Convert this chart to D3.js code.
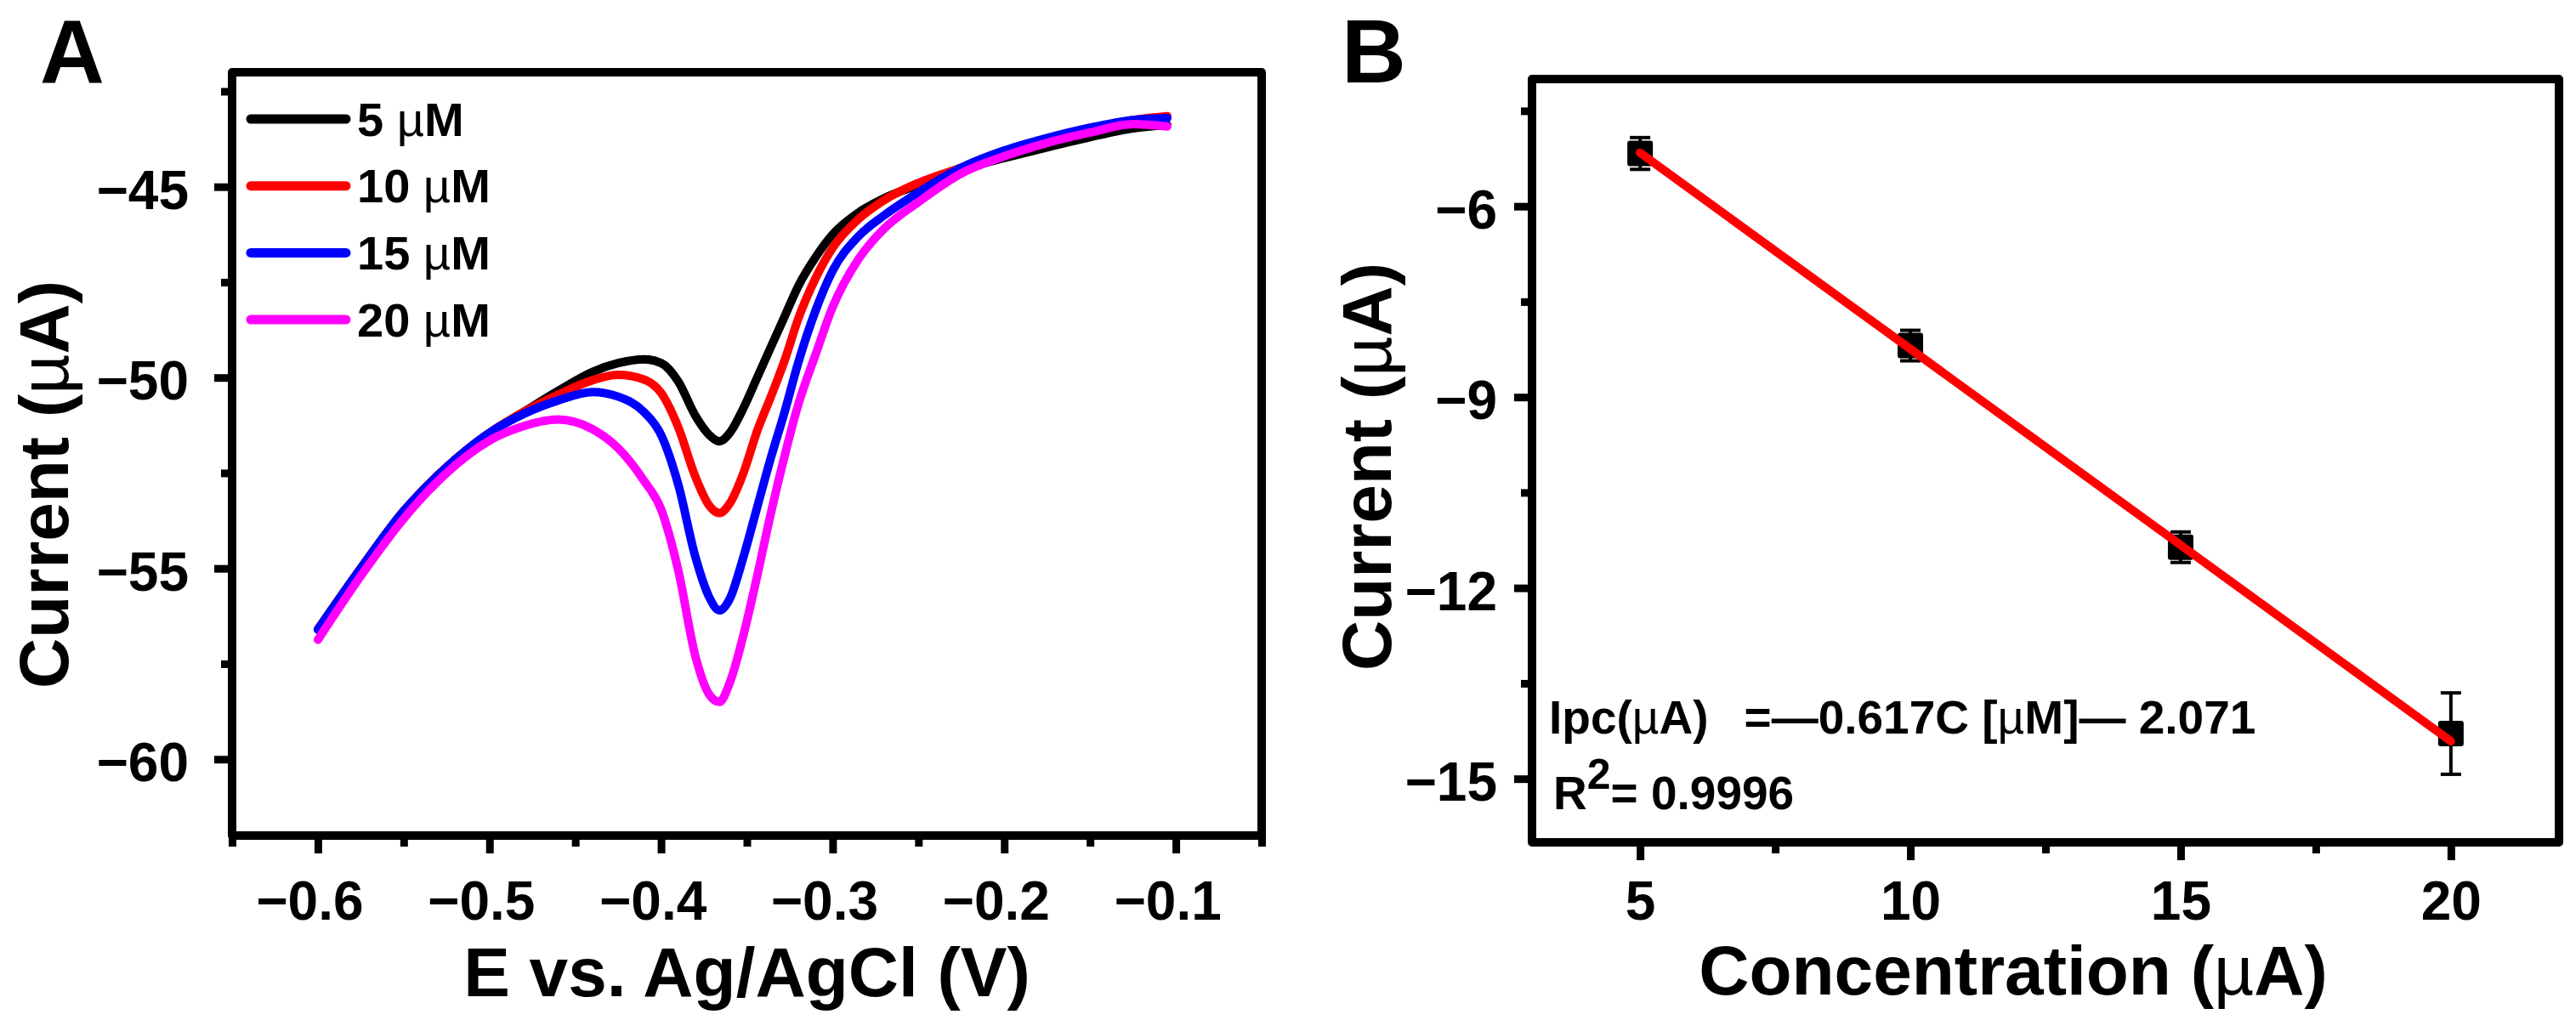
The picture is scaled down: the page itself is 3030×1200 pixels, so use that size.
<!DOCTYPE html>
<html>
<head>
<meta charset="utf-8">
<script src="https://cdn.jsdelivr.net/npm/d3@7"></script>
<style>
  body { margin: 0; background: #fff; }
  svg { display: block; font-family: "Liberation Sans", Arial, sans-serif; font-weight: bold; }
</style>
</head>
<body>
<div id="chart-area"></div>
<script>
/*
 *    DPV curves (A) and calibration plot (B)
 */

// ---- panel A data: potential (V) and current (uA) per concentration
const potential = [-0.600, -0.575, -0.550, -0.525, -0.500, -0.480, -0.460, -0.440, -0.425, -0.410,
    -0.400, -0.390, -0.380, -0.372, -0.366, -0.360, -0.352, -0.344, -0.336, -0.328,
    -0.320, -0.310, -0.300, -0.285, -0.270, -0.250, -0.225, -0.200, -0.175, -0.150,
    -0.125, -0.105];
const current5 = [-56.6, -55.0, -53.5, -52.35, -51.45, -50.9, -50.35, -49.85, -49.62, -49.52,
    -49.62, -50.1, -51.0, -51.5, -51.67, -51.45, -50.8, -50.0, -49.2, -48.4,
    -47.6, -46.85, -46.25, -45.68, -45.3, -44.95, -44.55, -44.25, -43.97, -43.7,
    -43.47, -43.38];
const current10 = [-56.6, -55.0, -53.5, -52.35, -51.45, -50.9, -50.45, -50.07, -49.93, -50.05,
    -50.4, -51.3, -52.6, -53.35, -53.55, -53.3, -52.5, -51.4, -50.5, -49.55,
    -48.45, -47.4, -46.6, -45.85, -45.35, -44.9, -44.5, -44.1, -43.8, -43.5,
    -43.25, -43.15];
const current15 = [-56.6, -55.0, -53.5, -52.35, -51.45, -50.95, -50.6, -50.38, -50.5, -50.9,
    -51.5, -52.8, -54.7, -55.75, -56.1, -55.8, -54.7, -53.4, -52.1, -50.9,
    -49.6, -48.25, -47.2, -46.3, -45.75, -45.15, -44.5, -44.05, -43.72, -43.45,
    -43.25, -43.2];
const current20 = [-56.87, -55.2, -53.7, -52.5, -51.65, -51.27, -51.1, -51.35, -51.85, -52.7,
    -53.45, -55.05, -57.3, -58.3, -58.5, -58.0, -56.75, -55.2, -53.55, -52.05,
    -50.7, -49.4, -48.15, -46.9, -46.1, -45.4, -44.65, -44.2, -43.85, -43.58,
    -43.36, -43.42];
const seriesLabels = ["5", "10", "15", "20"];
const potentialTicks = [-0.6, -0.5, -0.4, -0.3, -0.2, -0.1];
const potentialMinor = [-0.65, -0.55, -0.45, -0.35, -0.25, -0.15, -0.05];
const currentTicksA = [-60, -55, -50, -45];
const currentMinorA = [-57.5, -52.5, -47.5, -42.5];

// ---- panel B data: peak current vs concentration
const concentration = [5, 10, 15, 20];
const peakCurrent = [-5.17, -8.19, -11.36, -14.29];
const peakError = [0.25, 0.24, 0.24, 0.64];
const fitConc = [5, 20];
const fitCurrent = [-5.16, -14.41];
const concTicks = [5, 10, 15, 20];
const concMinor = [7.5, 12.5, 17.5];
const currentTicksB = [-15, -12, -9, -6];
const currentMinorB = [-13.5, -10.5, -7.5, -4.5];

var colours = ["#000000", "#ff0000", "#0000ff", "#ff00ff"];

const width = 3030;
const height = 1200;

const svg = d3.select("#chart-area")
    .append("svg")
    .attr("width", width)
    .attr("height", height);

const boxA = { left: 273, top: 85, right: 1484, bottom: 983 };
const boxB = { left: 1802, top: 93, right: 3010, bottom: 991 };

function panel(box) {
    return svg.append("g")
        .attr("transform", "translate(" + box.left + ", " + box.top + ")");
}

// ticks outside on left and bottom, then a closed frame on top
function drawAxes(g, x, y, w, h, o) {
    const bottomAxis = d3.axisBottom(x).tickValues(o.xMajor).tickSize(21).tickPadding(o.xPad).tickFormat(o.xFormat);
    const bottomMinor = d3.axisBottom(x).tickValues(o.xMinor).tickSize(13).tickFormat("");
    const leftAxis = d3.axisLeft(y).tickValues(o.yMajor).tickSize(21).tickPadding(o.yPad).tickFormat(d3.format("d"));
    const leftMinor = d3.axisLeft(y).tickValues(o.yMinor).tickSize(13).tickFormat("");

    g.append("g").attr("class", "bottom axis").attr("transform", "translate(0, " + h + ")").call(bottomAxis);
    g.append("g").attr("class", "bottom axis minor").attr("transform", "translate(0, " + h + ")").call(bottomMinor);
    g.append("g").attr("class", "left axis").call(leftAxis);
    g.append("g").attr("class", "left axis minor").call(leftMinor);

    g.selectAll(".axis").attr("font-size", null).attr("font-family", null);
    g.selectAll(".axis .domain").remove();
    g.selectAll(".axis .tick line").attr("stroke", "#000").attr("stroke-width", 9);
    g.selectAll(".axis .tick text")
        .attr("font-size", 64)
        .style("fill", "black");
    g.selectAll(".left.axis .tick text").attr("dy", "0.4em");
    if (o.xShift) {
        g.selectAll(".bottom.axis .tick text").attr("dx", o.xShift);
    }

    g.append("rect")
        .attr("width", w)
        .attr("height", h)
        .attr("fill", "none")
        .attr("stroke", "#000")
        .attr("stroke-width", 10)
        .attr("stroke-linejoin", "round");
}

// text with a thin mu, e.g. "Current (µA)"
function muText(sel, before, after) {
    sel.append("tspan").text(before);
    sel.append("tspan").attr("font-weight", "normal").text("\u00b5");
    sel.append("tspan").text(after);
}

/** Panel A */
const wA = boxA.right - boxA.left;
const hA = boxA.bottom - boxA.top;
const gA = panel(boxA);

const xA = d3.scaleLinear().domain([-0.65, -0.05]).range([0, wA]);
const yA = d3.scaleLinear().domain([-62, -42]).range([hA, 0]);

drawAxes(gA, xA, yA, wA, hA, {
    xMajor: potentialTicks, xMinor: potentialMinor, xFormat: d3.format(".1f"), xPad: 33, xShift: -10,
    yMajor: currentTicksA, yMinor: currentMinorA, yPad: 30
});

const series = [current5, current10, current15, current20];
const curve = d3.line()
    .x((d, i) => xA(potential[i]))
    .y((d) => yA(d))
    .curve(d3.curveMonotoneX);

gA.selectAll("path.curve")
    .data(series)
    .enter()
    .append("path")
    .attr("class", "curve")
    .attr("d", curve)
    .attr("fill", "none")
    .attr("stroke", (d, i) => colours[i])
    .attr("stroke-width", 10)
    .attr("stroke-linejoin", "round")
    .attr("stroke-linecap", "round");

const legend = gA.append("g").attr("transform", "translate(22, 55)");
const rows = legend.selectAll("g")
    .data(seriesLabels)
    .enter()
    .append("g")
    .attr("transform", (d, i) => "translate(0, " + i * 78.7 + ")");
rows.append("line")
    .attr("x1", 0)
    .attr("x2", 112)
    .attr("stroke", (d, i) => colours[i])
    .attr("stroke-width", 11)
    .attr("stroke-linecap", "round");
rows.append("text")
    .attr("x", 125)
    .attr("dy", "0.35em")
    .attr("font-size", 56)
    .each(function (d) {
        muText(d3.select(this), d + " ", "M");
    });

gA.append("text")
    .attr("x", wA / 2)
    .attr("y", 1172 - boxA.top)
    .attr("font-size", 82)
    .attr("text-anchor", "middle")
    .text("E vs. Ag/AgCl (V)");

gA.append("text")
    .attr("transform", "translate(" + (80 - boxA.left) + ", " + (570 - boxA.top) + ") rotate(-90)")
    .attr("font-size", 82)
    .attr("text-anchor", "middle")
    .call(muText, "Current (", "A)");

svg.append("text")
    .attr("x", 47)
    .attr("y", 98)
    .attr("font-size", 105)
    .text("A");

/** Panel B */
const wB = boxB.right - boxB.left;
const hB = boxB.bottom - boxB.top;
const gB = panel(boxB);

const xB = d3.scaleLinear().domain([3, 22]).range([0, wB]);
const yB = d3.scaleLinear().domain([-16, -4]).range([hB, 0]);

drawAxes(gB, xB, yB, wB, hB, {
    xMajor: concTicks, xMinor: concMinor, xFormat: d3.format("d"), xPad: 25,
    yMajor: currentTicksB, yMinor: currentMinorB, yPad: 20
});

const points = concentration.map((c, i) => ({ c: c, v: peakCurrent[i], e: peakError[i] }));

const bars = gB.selectAll("g.err")
    .data(points)
    .enter()
    .append("g")
    .attr("class", "err")
    .attr("stroke", "#000")
    .attr("stroke-width", 4);
bars.append("line")
    .attr("x1", (d) => xB(d.c))
    .attr("x2", (d) => xB(d.c))
    .attr("y1", (d) => yB(d.v - d.e))
    .attr("y2", (d) => yB(d.v + d.e));
bars.append("line")
    .attr("x1", (d) => xB(d.c) - 12)
    .attr("x2", (d) => xB(d.c) + 12)
    .attr("y1", (d) => yB(d.v + d.e))
    .attr("y2", (d) => yB(d.v + d.e));
bars.append("line")
    .attr("x1", (d) => xB(d.c) - 12)
    .attr("x2", (d) => xB(d.c) + 12)
    .attr("y1", (d) => yB(d.v - d.e))
    .attr("y2", (d) => yB(d.v - d.e));

gB.selectAll("rect.pt")
    .data(points)
    .enter()
    .append("rect")
    .attr("class", "pt")
    .attr("x", (d) => xB(d.c) - 15)
    .attr("y", (d) => yB(d.v) - 15)
    .attr("width", 30)
    .attr("height", 30)
    .attr("rx", 3)
    .attr("fill", "#000");

const fitLine = d3.line()
    .x((d, i) => xB(fitConc[i]))
    .y((d) => yB(d));
gB.append("path")
    .attr("d", fitLine(fitCurrent))
    .attr("fill", "none")
    .attr("stroke", "#ff0000")
    .attr("stroke-width", 10)
    .attr("stroke-linecap", "round");

const eq = gB.append("text")
    .attr("x", 1822 - boxB.left)
    .attr("y", 863 - boxB.top)
    .attr("font-size", 55);
muText(eq, "Ipc(", "A)");
eq.append("tspan").attr("dx", 42).text("=\u20140.617C [");
eq.append("tspan").attr("font-weight", "normal").text("\u00b5");
eq.append("tspan").text("M]\u2014 2.071");

const r2 = gB.append("text")
    .attr("x", 1827 - boxB.left)
    .attr("y", 952 - boxB.top)
    .attr("font-size", 55);
r2.append("tspan").text("R");
r2.append("tspan").attr("dy", -24).attr("font-size", 50).text("2");
r2.append("tspan").attr("dy", 24).text("= 0.9996");

gB.append("text")
    .attr("x", 2368 - boxB.left)
    .attr("y", 1170 - boxB.top)
    .attr("font-size", 82)
    .attr("text-anchor", "middle")
    .call(muText, "Concentration (", "A)");

gB.append("text")
    .attr("transform", "translate(" + (1636 - boxB.left) + ", " + (549 - boxB.top) + ") rotate(-90)")
    .attr("font-size", 82)
    .attr("text-anchor", "middle")
    .call(muText, "Current (", "A)");

svg.append("text")
    .attr("x", 1578)
    .attr("y", 97)
    .attr("font-size", 105)
    .text("B");
</script>
</body>
</html>
